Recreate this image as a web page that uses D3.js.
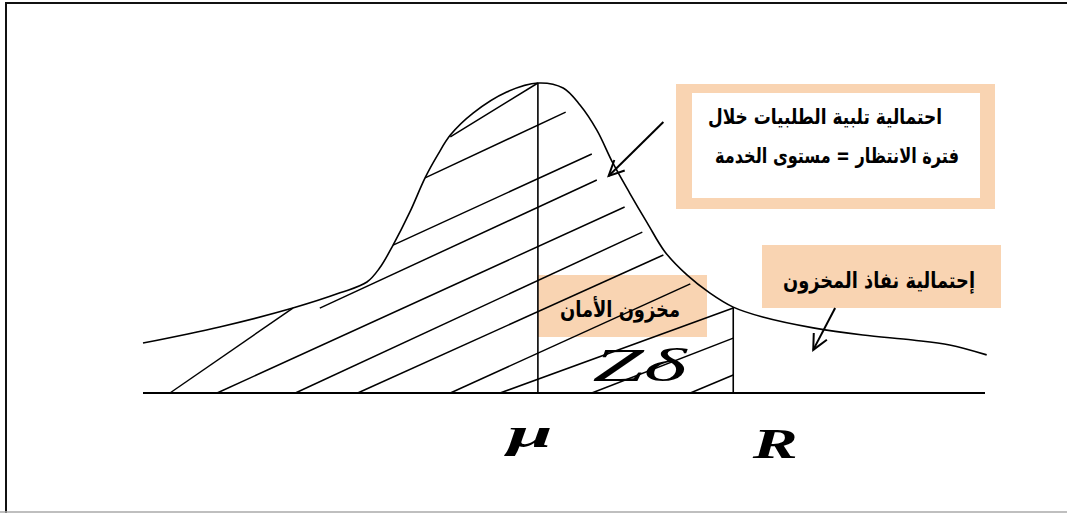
<!DOCTYPE html>
<html lang="ar">
<head>
<meta charset="UTF-8">
<title>Safety stock</title>
<script src="https://d3js.org/d3.v7.min.js"></script>
<style>
  body { margin: 0; background: #fff; }
  .ar { font-family: "DejaVu Sans", sans-serif; font-weight: bold; fill: #000; }
  .math { font-family: "Liberation Serif", "Times New Roman", serif; font-style: italic; fill: #000; }
</style>
</head>
<body>
<div id="chart"></div>
<script>
// demand curve (x = stock level, y = relative density)
const curveX = [0, 9.1, 17.8, 23.4, 26.6, 28.1, 29.7, 31.7, 33.5, 35.0, 36.5, 39.2, 43.2, 46.9,
                49.9, 51.9, 53.9, 55.8, 57.8, 59.9, 62.0, 64.6, 67.3, 70.1, 73.6, 79.6, 85.5, 91.4, 95.8, 100.2];
const curveY = [0.161, 0.213, 0.274, 0.323, 0.358, 0.403, 0.477, 0.584, 0.694, 0.768, 0.832, 0.903, 0.971, 1.0,
                0.984, 0.929, 0.848, 0.742, 0.645, 0.548, 0.455, 0.381, 0.323, 0.277, 0.245, 0.210, 0.187, 0.171, 0.155, 0.123];

const mu = 46.9, R = 70.1;
const tickLabels = ["\u03bc", "R"];

// hatch segments [x0, y0, x1, y1]
const hatchStart = [[3.2, 0], [8.8, 0], [18.1, 0], [25.5, 0], [36.5, 0], [42.4, 0], [53.3, 0], [65.0, 0],
                    [21.0, 0.274], [29.7, 0.477], [33.5, 0.694], [36.5, 0.826]];
const hatchEnd   = [[17.8, 0.274], [57.2, 0.600], [59.3, 0.519], [61.8, 0.445], [65.0, 0.352], [70.1, 0.274],
                    [70.1, 0.177], [70.1, 0.058], [53.9, 0.687], [53.3, 0.771], [50.2, 0.906], [46.9, 1.0]];

const serviceText = ["احتمالية تلبية الطلبيات خلال", "فترة الانتظار = مستوى الخدمة"];
const stockoutText = "إحتمالية نفاذ المخزون";
const safetyText = "مخزون الأمان";

const W = 1067, H = 513;
const x = d3.scaleLinear().domain([0, 100]).range([143, 985]);
const y = d3.scaleLinear().domain([0, 1]).range([393, 83]);

const svg = d3.select("#chart").append("svg").attr("width", W).attr("height", H);

// page frame
svg.append("line").attr("x1", 5).attr("x2", W).attr("y1", 3).attr("y2", 3).attr("stroke", "#111").attr("stroke-width", 2);
svg.append("line").attr("x1", 6).attr("x2", 6).attr("y1", 3).attr("y2", H).attr("stroke", "#111").attr("stroke-width", 2);
svg.append("line").attr("x1", 0).attr("x2", W).attr("y1", 512).attr("y2", 512).attr("stroke", "#aaa").attr("stroke-width", 1.5);

const orange = "#f9d4b2";

function fit(t, w) {
  t.attr("textLength", w).attr("lengthAdjust", "spacingAndGlyphs");
}

// service level box
svg.append("rect").attr("x", 676).attr("y", 84).attr("width", 319).attr("height", 125).attr("fill", orange);
svg.append("rect").attr("x", 692).attr("y", 93).attr("width", 288).attr("height", 105).attr("fill", "#fff");
const svcPos = [[825, 124, 234], [837, 163, 244]];
serviceText.forEach((s, i) => {
  svg.append("text").attr("class", "ar").attr("x", svcPos[i][0]).attr("y", svcPos[i][1])
    .attr("text-anchor", "middle").attr("font-size", 21).attr("direction", "rtl").text(s)
    .call(fit, svcPos[i][2]);
});

// stockout box
svg.append("rect").attr("x", 762).attr("y", 245).attr("width", 239).attr("height", 63).attr("fill", orange);
svg.append("text").attr("class", "ar").attr("x", 879).attr("y", 288).attr("text-anchor", "middle")
  .attr("font-size", 22).attr("direction", "rtl").text(stockoutText).call(fit, 192);

// safety stock box
svg.append("rect").attr("x", 538).attr("y", 275).attr("width", 169).attr("height", 62).attr("fill", orange);
svg.append("text").attr("class", "ar").attr("x", 620).attr("y", 317).attr("text-anchor", "middle")
  .attr("font-size", 22).attr("direction", "rtl").text(safetyText).call(fit, 120);

// Z delta
svg.append("text").attr("class", "math").attr("x", x((mu + R) / 2) + 4).attr("y", 381)
  .attr("text-anchor", "middle").attr("font-size", 46).text("Z\u03b4").call(fit, 94);

// baseline
svg.append("line").attr("x1", x(0)).attr("x2", x(100)).attr("y1", y(0)).attr("y2", y(0))
  .attr("stroke", "#000").attr("stroke-width", 2);

// curve
const pts = curveX.map((v, i) => [v, curveY[i]]);
svg.append("path").datum(pts)
  .attr("d", d3.line().x(d => x(d[0])).y(d => y(d[1])).curve(d3.curveCatmullRom.alpha(0.5)))
  .attr("fill", "none").attr("stroke", "#000").attr("stroke-width", 1.6);

// mean and reorder point lines
svg.append("line").attr("x1", x(mu)).attr("x2", x(mu)).attr("y1", y(0)).attr("y2", y(1))
  .attr("stroke", "#000").attr("stroke-width", 1.6);
svg.append("line").attr("x1", x(R)).attr("x2", x(R)).attr("y1", y(0)).attr("y2", y(0.277))
  .attr("stroke", "#000").attr("stroke-width", 1.6);

// hatching
svg.selectAll(".hatch").data(hatchStart).enter().append("line").attr("class", "hatch")
  .attr("x1", d => x(d[0])).attr("y1", d => y(d[1]))
  .attr("x2", (d, i) => x(hatchEnd[i][0])).attr("y2", (d, i) => y(hatchEnd[i][1]))
  .attr("stroke", "#000").attr("stroke-width", 1.5);

// arrows (open heads)
function arrow(p0, p1) {
  const x0 = x(p0[0]), y0 = y(p0[1]), x1 = x(p1[0]), y1 = y(p1[1]);
  const a = Math.atan2(y1 - y0, x1 - x0), L = 17, s = 0.45;
  svg.append("line").attr("x1", x0).attr("y1", y0).attr("x2", x1).attr("y2", y1)
    .attr("stroke", "#000").attr("stroke-width", 2);
  svg.append("path")
    .attr("d", `M${x1 - L * Math.cos(a - s)},${y1 - L * Math.sin(a - s)}L${x1},${y1}L${x1 - L * Math.cos(a + s)},${y1 - L * Math.sin(a + s)}`)
    .attr("fill", "none").attr("stroke", "#000").attr("stroke-width", 2);
}
arrow([61.8, 0.874], [55.3, 0.700]);
arrow([82.2, 0.274], [79.6, 0.139]);

// axis labels
const tickVals = [mu, R];
const tickBase = [447, 458];
const tickShift = [-8, 42];
tickVals.forEach((v, i) => {
  svg.append("text").attr("class", "math").attr("x", x(v) + tickShift[i]).attr("y", tickBase[i])
    .attr("text-anchor", "middle").attr("font-size", 42).attr("font-weight", "bold")
    .text(tickLabels[i]).call(fit, 45);
});
</script>
</body>
</html>
